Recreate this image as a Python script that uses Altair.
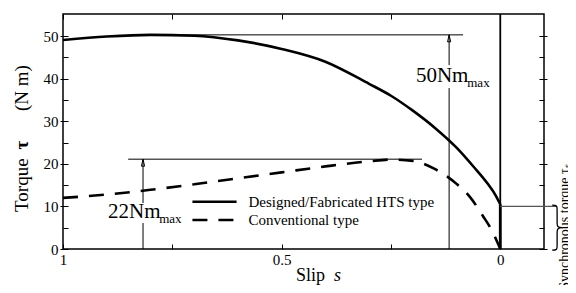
import altair as alt
import pandas as pd

# ---------------- data ----------------
solid_s = [1.0, 0.9, 0.8, 0.7, 0.6, 0.5, 0.4, 0.3, 0.25, 0.2, 0.15, 0.1, 0.06, 0.03, 0.01, 0.0]
solid_t = [49.1, 49.9, 50.3, 50.1, 49.0, 47.0, 44.0, 38.8, 36.0, 32.5, 28.5, 23.8, 19.2, 15.5, 12.5, 10.5]
drop_s = [0.0, 0.0]
drop_t = [10.5, 0.0]

conv_s = [1.0, 0.9, 0.8, 0.7, 0.6, 0.5, 0.4, 0.3, 0.25, 0.2, 0.15, 0.1, 0.07, 0.04, 0.02, 0.0]
conv_t = [12.0, 12.8, 13.9, 15.2, 16.6, 18.0, 19.4, 20.6, 21.0, 20.7, 18.8, 15.3, 12.3, 7.8, 4.5, 0.0]

x_ticks = [1.0, 0.75, 0.5, 0.25, 0.0]
y_ticks = [0, 5, 10, 15, 20, 25, 30, 35, 40, 45, 50]

max50 = 50.3
max22 = 21.1
sync_t = 10.0

FONT = "Liberation Serif"
xs = alt.Scale(domain=[-0.1, 1.0], reverse=True, nice=False, zero=False)
ys = alt.Scale(domain=[0, 55.2], nice=False, zero=False)


def X(field="s", axis=None):
    return alt.X(field, type="quantitative", scale=xs, axis=axis, title=None)


def Y(field="t", axis=None):
    return alt.Y(field, type="quantitative", scale=ys, axis=axis, title=None)


tick_size_y = {"condition": {"test": "datum.value % 10 === 0", "value": 8}, "value": 5}

bottom_axis = alt.Axis(orient="bottom", values=x_ticks, format="~g",
                       labelExpr="(datum.value == 0.75 || datum.value == 0.25) ? '' : datum.label",
                       tickSize=5, offset=-5, domain=False, grid=False, labelPadding=3,
                       labelFlush=False, labelFont=FONT, labelFontSize=15, labelColor="black",
                       tickColor="black", tickWidth=1)
left_axis = alt.Axis(orient="left", values=y_ticks, format="~g",
                     labelExpr="datum.value % 10 === 0 ? datum.label : ''",
                     tickSize=tick_size_y, offset=-5, domain=False, grid=False, labelPadding=2,
                     labelFlush=False, labelFont=FONT, labelFontSize=15, labelColor="black",
                     tickColor="black", tickWidth=1)
top_axis = alt.Axis(orient="top", values=x_ticks, labels=False, tickSize=5, offset=-5,
                    domain=False, grid=False, tickColor="black", tickWidth=1)
right_axis = alt.Axis(orient="right", values=y_ticks, labels=False, tickSize=tick_size_y,
                      offset=-5, domain=False, grid=False, tickColor="black", tickWidth=1)

solid_df = pd.DataFrame({"s": solid_s, "t": solid_t})
drop_df = pd.DataFrame({"s": drop_s, "t": drop_t})
conv_df = pd.DataFrame({"s": conv_s, "t": conv_t})

solid = alt.Chart(solid_df).mark_line(color="black", strokeWidth=2.6, interpolate="monotone").encode(
    x=X(axis=bottom_axis), y=Y(axis=left_axis))
drop = alt.Chart(drop_df).mark_line(color="black", strokeWidth=2.8).encode(x=X(), y=Y())
conv = alt.Chart(conv_df).mark_line(color="black", strokeWidth=2.6, strokeDash=[15, 11],
                                    interpolate="monotone").encode(
    x=X(axis=top_axis), y=Y(axis=right_axis))

# vertical line at s = 0
vline = alt.Chart(pd.DataFrame({"s": [0.0], "t": [0.0], "t2": [55.2]})).mark_rule(
    color="black", strokeWidth=1.8).encode(x=X(), y=Y(), y2="t2:Q")

# horizontal max lines
hlines = alt.Chart(pd.DataFrame({"s": [0.8, 0.851], "s2": [0.085, 0.179], "t": [max50, max22]})).mark_rule(
    color="black", strokeWidth=1).encode(x=X(), x2="s2:Q", y=Y())

# vertical arrow shafts (with gaps for labels)
shafts = alt.Chart(pd.DataFrame({
    "s": [0.117, 0.117, 0.817, 0.817],
    "t": [0.0, 43.2, 0.0, 10.8],
    "t2": [37.8, max50, 6.1, max22]})).mark_rule(color="black", strokeWidth=1).encode(
    x=X(), y=Y(), y2="t2:Q")

heads = alt.Chart(pd.DataFrame({"s": [0.117, 0.817], "t": [max50, max22]})).mark_point(
    shape="M0,0L-0.45,2L0.45,2Z", size=49, filled=False, stroke="black", strokeWidth=1,
    opacity=1).encode(x=X(), y=Y())

# synchronous torque marker
sync_line = alt.Chart(pd.DataFrame({"s": [0.0], "s2": [-0.13], "t": [sync_t]})).mark_rule(
    color="#555555", strokeWidth=1.2).encode(x=X(), x2="s2:Q", y=Y())
brace = alt.Chart(pd.DataFrame({"s": [-0.13], "t": [sync_t / 2]})).mark_point(
    shape="M-0.22,-1C0,-1 0,-0.95 0,-0.8L0,-0.2C0,-0.05 0.05,0 0.22,0C0.05,0 0,0.05 0,0.2L0,0.8C0,0.95 0,1 -0.22,1",
    size=2025, filled=False, stroke="black", strokeWidth=1.3, opacity=1).encode(x=X(), y=Y())


def text_layer(txt, s, t, size, align="left", baseline="alphabetic", angle=0, style="normal",
               weight="normal"):
    df = pd.DataFrame({"s": [s], "t": [t], "txt": [txt]})
    mk = dict(font=FONT, fontSize=size, align=align, baseline=baseline, color="black",
              fontStyle=style, fontWeight=weight)
    if angle:
        mk["angle"] = angle
    return alt.Chart(df).mark_text(**mk).encode(x=X(), y=Y(), text="txt:N")


texts = [
    text_layer("50Nm", 0.193, 39.2, 21),
    text_layer("max", 0.0755, 38.0, 13),
    text_layer("22Nm", 0.897, 7.3, 21),
    text_layer("max", 0.780, 6.1, 13),
    # axis titles
    text_layer("Slip", 0.467, -7.6, 18),
    text_layer("s", 0.380, -7.6, 18, style="italic"),
    text_layer("Torque", 1.094, 15.0, 19, align="center", baseline="middle", angle=270),
    text_layer("τ", 1.094, 24.4, 19, align="center", baseline="middle", angle=270, weight="bold"),
    text_layer("(N m)", 1.094, 37.8, 19, align="center", baseline="middle", angle=270),
    text_layer("Synchronous torque τₛ", -0.157, -9.6, 14, align="left", baseline="alphabetic", angle=270),
    # legend
    text_layer("Designed/Fabricated HTS type", 0.576, 11.1, 15, baseline="middle"),
    text_layer("Conventional type", 0.576, 6.8, 15, baseline="middle"),
]

leg_solid = alt.Chart(pd.DataFrame({"s": [0.704], "s2": [0.603], "t": [11.1]})).mark_rule(
    color="black", strokeWidth=2.6).encode(x=X(), x2="s2:Q", y=Y())
leg_dash = alt.Chart(pd.DataFrame({"s": [0.704], "s2": [0.603], "t": [6.8]})).mark_rule(
    color="black", strokeWidth=2.6, strokeDash=[15, 11]).encode(x=X(), x2="s2:Q", y=Y())

chart = alt.layer(
    solid, conv, drop, vline, hlines, shafts, heads, sync_line, brace, leg_solid, leg_dash, *texts
).resolve_axis(x="independent", y="independent").properties(
    width=481, height=235,
    autosize=alt.AutoSizeParams(type="none"),
    padding={"left": 55, "top": 6, "right": 24, "bottom": 36},
    background="white",
).configure_view(stroke="black", strokeWidth=1.5).configure_axis(
    labelFont=FONT, titleFont=FONT
).configure_text(font=FONT)

chart.save("out.html", embed_options={"renderer": "svg", "actions": False})
